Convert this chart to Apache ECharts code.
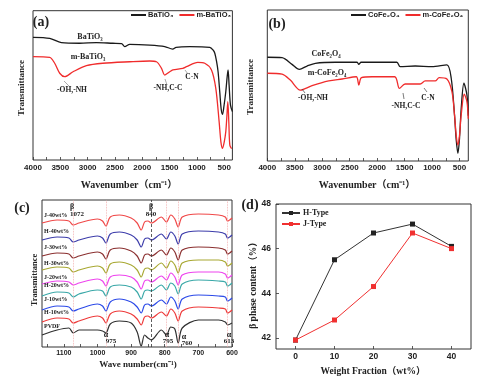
<!DOCTYPE html>
<html><head><meta charset="utf-8">
<script src="https://cdn.jsdelivr.net/npm/echarts@6/dist/echarts.min.js"></script>
<style>html,body{margin:0;padding:0;background:#fff}#c{width:484px;height:384px}</style>
</head><body><div id="c"></div>
<script>
// ---------- Panel (a): BaTiO3 FTIR ----------
const aBlackX = [4000,3694,3480,3145,2839,2540,2380,2320,2229,1863,1588,1443,1380,1130,764,700,672,640,612,580,555,531,505,471,445,429,410,385,350];
const aBlackY = [82.2,81.5,78.6,78.2,78.6,78.2,78.0,75.9,77.5,77.0,76.0,74.3,75.5,75.9,75.5,73.5,71.5,66.0,59.1,45.0,34.0,30.6,36.0,45.7,56.0,60.3,50.0,36.8,32.4];
const aRedX = [4000,3694,3603,3511,3419,3267,3022,2723,2229,1863,1740,1648,1588,1497,1441,1258,1190,984,856,733,654,593,560,531,500,471,450,434,415,397,361,350];
const aRedY = [69.2,68.8,64.8,58.1,55.8,59.1,63.2,64.8,65.8,66.3,65.8,61.4,56.9,59.1,60.3,61.4,62.5,65.4,64.8,60.3,48.0,25.7,12.0,7.8,12.0,19.0,30.0,39.0,25.0,10.0,7.8,8.0];
// ---------- Panel (b): CoFe2O4 FTIR ----------
const bBlackX = [4000,3732,3550,3417,3276,3125,2760,2365,2334,2292,2091,1641,1581,1307,1003,730,651,591,560,529,500,469,420,365,340];
const bBlackY = [68.7,68.4,64.0,60.7,62.9,64.7,65.4,65.4,64.0,65.4,65.4,65.4,62.5,62.9,62.5,63.6,54.8,30.5,14.0,5.1,15.0,34.9,51.5,43.7,30.0];
const bRedX = [4000,3732,3581,3398,3185,2881,2638,2380,2334,2286,2091,1680,1594,1490,1216,1125,943,870,730,638,591,560,529,500,469,414,365,340];
const bRedY = [58.1,57.6,53.6,47.0,49.9,53.0,54.3,55.8,50.3,55.2,55.8,55.8,48.1,51.0,51.0,53.0,53.0,55.2,54.3,45.9,30.5,17.0,10.6,17.0,30.5,44.2,39.3,28.0];
// ---------- Panel (c): PVDF composites FTIR ----------
const waveC = [1165,1120,1085,1072,1055,1000,985,975,962,935,900,882,870,860,850,840,810,795,782,770,760,748,700,640,620,613,600];
const cJ40 = [124,127,126,122,124,128,126,121,130,132,129,124,117,125,126,124,130,125,132,128,120,130,133,132,130,126,129];
const cH40 = [107,110,109,105,107,111,109,104,113,115,112,107,100,108,109,107,113,108,115,111,103,113,116,115,113,109,112];
const cJ30 = [91,94,93,89,91,95,93,88,97,99,96,91,84,92,93,91,97,92,99,95,87,97,100,99,97,93,96];
const cH30 = [77,80,79,75,77,81,79,74,83,85,82,77,70,78,79,77,84,79,86,82,74,84,87,87,85,81,84];
const cJ20 = [63,66,65,62,64,68,66,61,70,72,70,65,58,66,67,65,71,67,74,70,62,72,75,75,73,69,72];
const cH20 = [51,55,54,50,53,57,56,51,60,62,60,55,48,56,57,56,62,57,64,61,53,63,67,66,65,61,64];
const cJ10 = [37,41,40,36,38,43,41,36,45,48,45,40,34,42,43,41,47,43,50,46,38,48,52,51,50,46,49];
const cH10 = [25,29,28,24,26,31,29,24,33,36,33,28,22,30,31,29,35,31,38,34,26,36,40,39,38,34,37];
const cPVDF = [12,17,19,14,17,17,16,14,23,26,24,15,1,12,9,7,17,12,20,18,4,19,27,27,25,22,24];
const cNames = ['J-40wt%','H-40wt%','J-30wt%','H-30wt%','J-20wt%','H-20wt%','J-10wt%','H-10wt%','PVDF'];
const cPeaksAlpha = [1072,975,795,760,613];
const cPeakBeta = 840;
const cTicks = [600,700,800,900,1000,1100];
const cMinorTicks = [600,650,700,750,800,850,900,950,1000,1050,1100,1150];
// ---------- Panel (d): beta phase content ----------
const dFraction = [0,10,20,30,40];
const dH = [41.9,45.5,46.7,47.1,46.1];
const dJ = [41.9,42.8,44.3,46.7,46.0];
const abTicks = [500,1000,1500,2000,2500,3000,3500,4000];
const abMinorTicks = [500,750,1000,1250,1500,1750,2000,2250,2500,2750,3000,3250,3500,3750,4000];
const dYTicks = [42,44,46,48];

const zip = (xs, ys) => xs.map((x, i) => [x, ys[i]]);
const SANS = 'Liberation Sans, Arial, sans-serif';
const SERIF = 'Liberation Serif, Times New Roman, Noto Sans CJK SC, serif';
const INK = '#222';
const plain = v => String(v);

function txt(x, y, text, size, opts) {
  opts = opts || {};
  return {type:'text', x:x, y:y, rotation: opts.rot || 0, z:100,
    style:{text:text, fontSize:size, fontWeight:'bold', fontFamily: opts.font || SERIF,
      fill: opts.color || INK, align: opts.align || 'center', verticalAlign:'middle'}};
}
function seg(x1, y1, x2, y2, color) {
  return {type:'line', z:100, shape:{x1:x1,y1:y1,x2:x2,y2:y2}, style:{stroke: color || '#888', lineWidth:0.7}};
}

const abAxis = (gi, min, margin) => ({
  gridIndex: gi, type:'value', inverse:true, min:min, max:4000,
  axisLine:{show:false, onZero:false}, splitLine:{show:false},
  axisTick:{show:true, inside:true, length:3, customValues:abMinorTicks, lineStyle:{color:'#333', width:0.8}},
  axisLabel:{customValues:abTicks, formatter:plain, fontSize:8, fontWeight:'bold', fontFamily:SANS, color:INK, margin:margin}
});

const cColors = ['#f04848','#3c3caa','#8b3030','#a8a832','#ee44ee','#3aa8a8','#2c4ae8','#ee3a3a','#303030'];
const cData = [cJ40,cH40,cJ30,cH30,cJ20,cH20,cJ10,cH10,cPVDF];

const series = [
  {name:'BaTiO₃', type:'line', xAxisIndex:0, yAxisIndex:0, data:zip(aBlackX,aBlackY), showSymbol:false, smooth:0.3, lineStyle:{color:'#1a1a1a', width:1.3}, itemStyle:{color:'#1a1a1a'}},
  {name:'m-BaTiO₃', type:'line', xAxisIndex:0, yAxisIndex:0, data:zip(aRedX,aRedY), showSymbol:false, smooth:0.3, lineStyle:{color:'#f02c2c', width:1.3}, itemStyle:{color:'#f02c2c'}},
  {name:'CoFe₂O₄', type:'line', xAxisIndex:1, yAxisIndex:1, data:zip(bBlackX,bBlackY), showSymbol:false, smooth:0.3, lineStyle:{color:'#1a1a1a', width:1.3}, itemStyle:{color:'#1a1a1a'}},
  {name:'m-CoFe₂O₄', type:'line', xAxisIndex:1, yAxisIndex:1, data:zip(bRedX,bRedY), showSymbol:false, smooth:0.3, lineStyle:{color:'#f02c2c', width:1.3}, itemStyle:{color:'#f02c2c'}}
];
cData.forEach((arr, i) => {
  const s = {name:cNames[i], type:'line', xAxisIndex:2, yAxisIndex:2, data:zip(waveC, arr), showSymbol:false, smooth:0.3,
    lineStyle:{color:cColors[i], width:1.2}, itemStyle:{color:cColors[i]}};
  if (i === cData.length - 1) {
    s.markLine = {silent:true, symbol:'none', label:{show:false},
      data: cPeaksAlpha.map(v => ({xAxis:v, lineStyle:{color:'#f2a8a8', type:'dotted', width:0.8}}))
        .concat([{xAxis:cPeakBeta, lineStyle:{color:'#333', type:[3,2], width:0.8}}])};
  }
  series.push(s);
});
series.push(
  {name:'H-Type', type:'line', xAxisIndex:3, yAxisIndex:3, data:zip(dFraction,dH), symbol:'rect', symbolSize:5, lineStyle:{color:'#333', width:1}, itemStyle:{color:'#222'}},
  {name:'J-Type', type:'line', xAxisIndex:3, yAxisIndex:3, data:zip(dFraction,dJ), symbol:'rect', symbolSize:5, lineStyle:{color:'#f03030', width:1}, itemStyle:{color:'#f03030'}}
);

const gridCommon = {show:true, borderColor:'#333', borderWidth:1, backgroundColor:'transparent', containLabel:false};

const graphic = [
  // panel (a)
  txt(41, 22, '(a)', 14),
  txt(22, 88, 'Transmittance', 9, {rot:Math.PI/2}),
  txt(129, 185, 'Wavenumber（cm⁻¹）', 10),
  txt(90, 37, 'BaTiO₃', 8),
  txt(88, 57, 'm-BaTiO₃', 8),
  txt(72, 90, '-OH,-NH', 7.5),
  txt(168, 88, '-NH,C-C', 7.5),
  txt(192, 77, 'C-N', 7.5),
  seg(64, 81, 69, 86), seg(165, 79, 167, 85), seg(185, 70, 188, 74),
  // panel (b)
  txt(277, 24, '(b)', 14),
  txt(251, 87, 'Transmittance', 9, {rot:Math.PI/2}),
  txt(367, 185, 'Wavenumber（cm⁻¹）', 10),
  txt(326, 54, 'CoFe₂O₄', 8),
  txt(327, 73, 'm-CoFe₂O₄', 8),
  txt(313, 98, '-OH,-NH', 7.5),
  txt(406, 106, '-NH,C-C', 7.5),
  txt(428, 98, 'C-N', 7.5),
  seg(302, 89, 305, 93, '#444'), seg(403, 93, 404, 99, '#444'), seg(424, 88, 427, 92, '#444'),
  // panel (c)
  txt(22, 208, '(c)', 14),
  txt(35, 280, 'Transmittance', 8.5, {rot:Math.PI/2}),
  txt(138, 365, 'Wave number(cm⁻¹)', 9),
  txt(72, 207, 'β', 8), txt(77, 214, '1072', 7),
  txt(151, 207, 'β', 8), txt(151, 214, '840', 7),
  txt(106, 335, 'α', 8), txt(111, 341, '975', 7),
  txt(167, 335, 'α', 8), txt(168, 341, '795', 7),
  txt(184, 337, 'α', 8), txt(187, 343, '760', 7),
  txt(229, 335, 'α', 8), txt(229, 341, '613', 7),
  // panel (d)
  txt(250, 205, '(d)', 14),
  txt(254, 283, 'β phase content（%）', 9.5, {rot:Math.PI/2}),
  txt(373, 372, 'Weight Fraction（wt%）', 9.5)
];
const cLabelY = [215, 231, 247, 263, 277, 285, 299, 312, 326];
cNames.forEach((n, i) => graphic.push(txt(44, cLabelY[i], n, 6, {align:'left'})));

const option = {
  animation:false,
  backgroundColor:'#fff',
  grid:[
    Object.assign({left:33, top:10.7, width:199.4, height:149.3}, gridCommon),
    Object.assign({left:267.3, top:10, width:201, height:151}, gridCommon),
    Object.assign({left:42, top:200, width:190, height:147}, gridCommon),
    Object.assign({left:276, top:204, width:195, height:145}, gridCommon)
  ],
  xAxis:[
    abAxis(0, 350, 4),
    abAxis(1, 340, 3),
    {gridIndex:2, type:'value', inverse:true, min:600, max:1165,
      axisLine:{show:false, onZero:false}, splitLine:{show:false},
      axisTick:{show:true, inside:true, length:3, customValues:cMinorTicks, lineStyle:{color:'#333', width:0.8}},
      axisLabel:{customValues:cTicks, formatter:plain, fontSize:7, fontWeight:'bold', fontFamily:SANS, color:INK, margin:3}},
    {gridIndex:3, type:'value', min:-5, max:45,
      axisLine:{show:false, onZero:false}, splitLine:{show:false},
      axisTick:{show:true, inside:true, length:3, customValues:dFraction, lineStyle:{color:'#333', width:0.8}},
      axisLabel:{customValues:dFraction, formatter:plain, fontSize:8.5, fontWeight:'bold', fontFamily:SANS, color:INK, margin:3}}
  ],
  yAxis:[
    {gridIndex:0, type:'value', min:0, max:100, show:false},
    {gridIndex:1, type:'value', min:0, max:100, show:false},
    {gridIndex:2, type:'value', min:0, max:147, show:false},
    {gridIndex:3, type:'value', min:41.5, max:48,
      axisLine:{show:false, onZero:false}, splitLine:{show:false},
      axisTick:{show:true, inside:true, length:3, customValues:dYTicks, lineStyle:{color:'#333', width:0.8}},
      axisLabel:{customValues:dYTicks, formatter:plain, fontSize:8.5, fontWeight:'bold', fontFamily:SANS, color:INK, margin:5}}
  ],
  legend:[
    {data:['BaTiO₃','m-BaTiO₃'], left:131, top:11, padding:0, itemWidth:15, itemHeight:2, icon:'rect', itemGap:6,
      textStyle:{fontSize:7.5, fontWeight:'bold', fontFamily:SANS, color:INK, padding:[0,0,0,-3]}},
    {data:['CoFe₂O₄','m-CoFe₂O₄'], left:351, top:11, padding:0, itemWidth:15, itemHeight:2, icon:'rect', itemGap:6,
      textStyle:{fontSize:7.5, fontWeight:'bold', fontFamily:SANS, color:INK, padding:[0,0,0,-3]}},
    {data:['H-Type','J-Type'], orient:'vertical', left:281, top:209, padding:0, itemWidth:18, itemHeight:5, itemGap:3,
      textStyle:{fontSize:8, fontWeight:'bold', fontFamily:SERIF, color:INK, padding:[0,0,0,-2]}}
  ],
  series:series,
  graphic:graphic
};
const chart = echarts.init(document.getElementById('c'), null, {renderer:'canvas'});
chart.setOption(option);
</script></body></html>
